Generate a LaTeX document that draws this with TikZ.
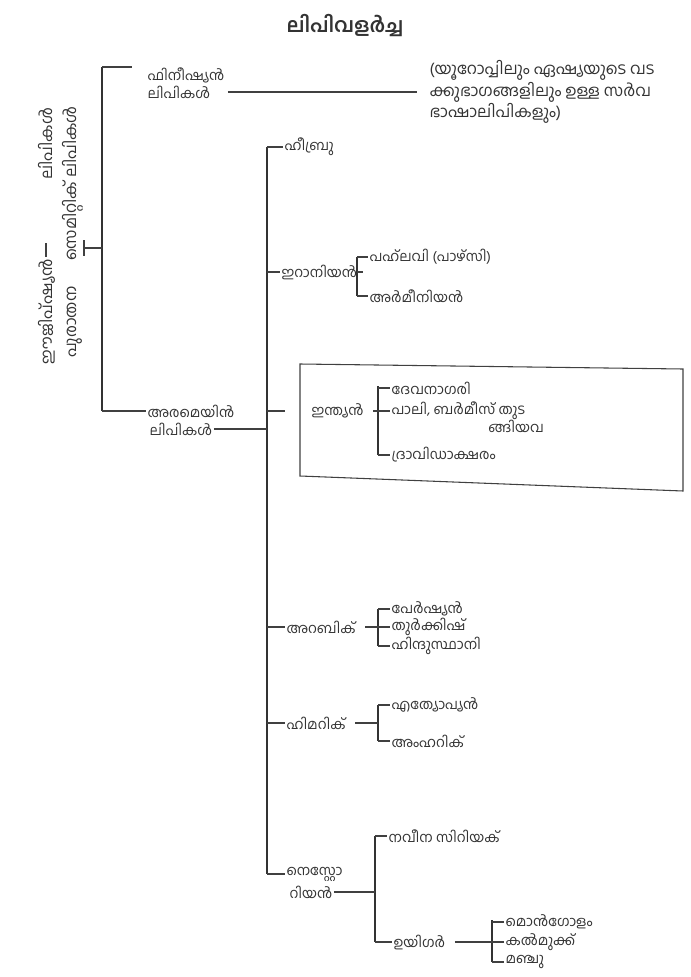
\documentclass[tikz,border=0pt]{standalone}
\usepackage{fontspec}
\usepackage{xcolor}
\newfontfamily\mal[Script=Malayalam]{Hind Kochi}
\newcommand{\ML}{\mal\fontsize{10.5}{12.8}\selectfont}
\newcommand{\MG}{\mal\fontsize{12}{13}\selectfont}
\newcommand{\MT}{\mal\fontsize{15}{18}\selectfont\bfseries}

\begin{document}
\begin{tikzpicture}[x=0.75pt,y=-0.75pt]
\tikzstyle{texto}=[draw=none,fill=none,black!80,font=\ML,inner sep=1pt,anchor=west]
\tikzstyle{line}=[black!75,line width=0.8pt]
\tikzstyle{bar}=[black!80,line width=1.1pt]

\useasboundingbox (0,0) rectangle (691,977);

\node[texto,anchor=center,font=\MT] (titulo) at (345,26) {ലിപിവളർച്ച};

\node[texto,anchor=center,rotate=90,font=\MG] (egipcio) at (47,236) {ഈജിപ്ഷ്യൻ\hspace{5em}ലിപികൾ};
\node[texto,anchor=center,rotate=90,font=\MG] (semita) at (73,232) {പുരാതന\hspace{1.6em}സെമിറ്റിക് ലിപികൾ};
\coordinate (t1a) at (46,243);
\coordinate (t1b) at (46,257);
\coordinate (t2a) at (84,240);
\coordinate (t2b) at (84,256);
\draw[line] (t1a) -- (t1b);
\draw[line] (t2a) -- (t2b);

\coordinate (v1a) at (102,67);
\coordinate (v1b) at (102,411);
\coordinate (v1c) at (132,67);
\draw[bar] (v1a) -- (v1b);
\draw[line] (v1a) -- (v1c);
\draw[line] (t2a |- 0,248) -- (v1a |- 0,248);

\node[texto] (fenicio1) at (146,75) {ഫിനീഷ്യൻ};
\node[texto] (fenicio2) at (146,92) {ലിപികൾ};
\node[texto,align=left,font=\MG] (europa) at (428,92) {(യൂറോപ്പിലും ഏഷ്യയുടെ വട\\ക്കുഭാഗങ്ങളിലും ഉള്ള സർവ\\ഭാഷാലിപികളും)};
\draw[line] ([xshift=12]fenicio2.east) -- ([xshift=-8]europa.west);

\node[texto] (arameo1) at (146,411) {അരമെയിൻ};
\node[texto] (arameo2) at (148,429) {ലിപികൾ};
\draw[line] (v1b) -- (arameo1.west);

\coordinate (v2a) at (267,147);
\coordinate (v2b) at (267,874);
\draw[bar] (v2a) -- (v2b);
\draw[line] (arameo2.east) -- (arameo2.east -| v2a);

\node[texto] (hebreo) at (283,147) {ഹീബ്രു};
\draw[line] (v2a) -- (hebreo.west);

\node[texto] (irani) at (280,272) {ഇറാനിയൻ};
\coordinate (v3a) at (357,257);
\coordinate (v3b) at (357,296);
\draw[line] (v2a |- irani) -- (irani.west);
\draw[bar] (v3a) -- (v3b);
\draw[line] ([xshift=3]irani.east) -- (irani.east -| v3a);
\node[texto] (pahlavi) at (368,257) {പഹ്‌ലവി (പാഴ്‌സി)};
\node[texto] (armenio) at (368,296) {അർമീനിയൻ};
\draw[line] (v3a) -- (pahlavi.west);
\draw[line] (v3b) -- (armenio.west);

\draw[line] (300,364) -- (683,369) -- (683,491) -- (300,476) -- cycle;
\coordinate (caja) at (285,411);
\draw[line] (v2a |- caja) -- (caja);
\node[texto] (india) at (310,411) {ഇന്ത്യൻ};
\coordinate (v4a) at (378,386);
\coordinate (v4b) at (378,455);
\draw[bar] (v4a) -- (v4b);
\draw[line] ([xshift=6]india.east) -- (india.east -| v4a);
\node[texto] (nagari) at (390,388) {ദേവനാഗരി};
\node[texto] (pali1) at (390,411) {പാലി, ബർമീസ് തുട};
\node[texto,anchor=north east] (pali2) at ([xshift=14,yshift=2]pali1.south east) {ങ്ങിയവ};
\node[texto] (dravida) at (390,455) {ദ്രാവിഡാക്ഷരം};
\draw[line] (v4a |- nagari) -- (nagari.west);
\draw[line] (v4a |- pali1) -- (pali1.west);
\draw[line] (v4b) -- (dravida.west);

\node[texto] (arabe) at (285,627) {അറബിക്};
\coordinate (v5a) at (378,609);
\coordinate (v5b) at (378,646);
\draw[line] (v2a |- arabe) -- (arabe.west);
\draw[bar] (v5a) -- (v5b);
\draw[line] ([xshift=6]arabe.east) -- (arabe.east -| v5a);
\node[texto] (persa) at (390,609) {പേർഷ്യൻ};
\node[texto] (turco) at (390,627) {തുർക്കിഷ്};
\node[texto] (indostani) at (390,646) {ഹിന്ദുസ്ഥാനി};
\draw[line] (v5a) -- (persa.west);
\draw[line] (v5a |- turco) -- (turco.west);
\draw[line] (v5b) -- (indostani.west);

\node[texto] (himyar) at (285,723) {ഹിമറിക്};
\coordinate (v6a) at (378,705);
\coordinate (v6b) at (378,741);
\draw[line] (v2a |- himyar) -- (himyar.west);
\draw[bar] (v6a) -- (v6b);
\draw[line] ([xshift=6]himyar.east) -- (himyar.east -| v6a);
\node[texto] (etiope) at (390,705) {എത്യോപ്യൻ};
\node[texto] (amharico) at (390,741) {അംഹറിക്};
\draw[line] (v6a) -- (etiope.west);
\draw[line] (v6b) -- (amharico.west);

\node[texto] (nestor1) at (285,874) {നെസ്റ്റോ};
\node[texto] (nestor2) at (288,892) {റിയൻ};
\draw[line] (v2b) -- (nestor1.west);
\coordinate (v7a) at (375,836);
\coordinate (v7b) at (375,942);
\draw[bar] (v7a) -- (v7b);
\draw[line] (nestor2.east) -- (nestor2.east -| v7a);
\node[texto] (siriaco) at (387,836) {നവീന സിറിയക്};
\node[texto] (uigur) at (392,942) {ഉയിഗർ};
\draw[line] (v7a) -- (siriaco.west);
\draw[line] (v7b) -- (uigur.west);
\coordinate (v8a) at (492,920);
\coordinate (v8b) at (492,962);
\draw[bar] (v8a) -- (v8b);
\draw[line] ([xshift=6]uigur.east) -- (uigur.east -| v8a);
\node[texto] (mongol) at (504,922) {മൊൻഗോളം};
\node[texto] (kalmuko) at (504,942) {കൽമുക്ക്};
\node[texto] (manchu) at (504,962) {മഞ്ചു};
\draw[line] (v8a |- mongol) -- (mongol.west);
\draw[line] (v8a |- kalmuko) -- (kalmuko.west);
\draw[line] (v8b) -- (manchu.west);
\end{tikzpicture}
\end{document}
